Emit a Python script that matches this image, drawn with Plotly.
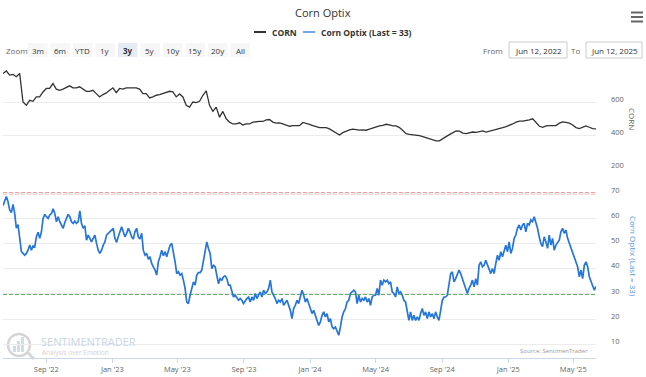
import plotly.graph_objects as go
import pandas as pd

# ---------------- data ----------------
title_text = "Corn Optix"
corn_name = "CORN"
optix_name = "Corn Optix (Last = 33)"
start_date = "2022-06-13"
end_date = "2025-06-12"

corn_values = [
    773, 788, 763, 767, 753, 773, 600, 580, 610, 604,
    631, 631, 661, 682, 682, 712, 678, 671, 678, 686,
    698, 686, 686, 692, 678, 665, 665, 671, 651, 631,
    645, 655, 671, 686, 657, 682, 678, 686, 686, 686,
    686, 678, 651, 651, 625, 631, 641, 645, 651, 661,
    665, 661, 631, 649, 631, 580, 569, 600, 596, 604,
    641, 668, 580, 543, 569, 508, 543, 498, 478, 467,
    467, 474, 461, 467, 467, 478, 482, 482, 482, 492,
    494, 478, 472, 474, 467, 461, 453, 457, 457, 457,
    476, 472, 465, 457, 451, 445, 445, 445, 437, 425,
    412, 400, 414, 423, 431, 435, 431, 429, 431, 429,
    435, 443, 451, 455, 459, 465, 461, 455, 455, 445,
    427, 408, 404, 402, 398, 396, 390, 384, 378, 374,
    365, 365, 380, 390, 402, 416, 425, 423, 412, 408,
    414, 418, 416, 420, 425, 418, 423, 427, 431, 437,
    445, 451, 457, 467, 478, 484, 484, 486, 492, 498,
    478, 453, 447, 455, 457, 457, 457, 472, 480, 476,
    472, 461, 445, 439, 449, 455, 447, 439, 437,
]

optix_values = [
    65.1, 67.3, 68.7, 66.7, 63.4, 62.3, 65.6, 62.0, 56.1, 57.6,
    52.1, 46.8, 46.1, 45.4, 46.1, 47.4, 49.4, 47.4, 49.1, 48.8,
    52.7, 54.5, 52.1, 54.7, 60.0, 61.6, 60.7, 60.0, 61.4, 62.0,
    63.8, 62.0, 58.7, 60.7, 58.7, 57.4, 56.1, 58.4, 60.0, 61.6,
    60.7, 58.7, 58.0, 59.0, 58.0, 58.7, 63.0, 58.0, 56.1, 57.1,
    51.4, 53.4, 52.1, 50.7, 52.1, 53.4, 50.1, 47.4, 46.1, 47.4,
    49.4, 50.7, 53.4, 54.1, 55.0, 55.4, 56.1, 52.1, 50.5, 52.7,
    54.7, 56.7, 54.7, 52.7, 54.1, 56.1, 54.7, 52.7, 51.8, 54.7,
    56.1, 52.7, 51.8, 54.1, 47.4, 45.4, 46.1, 43.8, 44.8, 42.1,
    40.8, 39.5, 37.5, 42.8, 44.8, 47.4, 45.2, 46.8, 44.8, 47.4,
    49.4, 50.1, 46.8, 42.8, 38.1, 38.8, 37.5, 38.1, 35.5, 32.2,
    26.8, 26.2, 29.5, 32.2, 34.8, 33.5, 37.5, 38.5,
    38.5, 39.5, 42.8, 46.8, 50.7, 48.1, 46.1, 40.1, 41.4, 40.8,
    37.5, 34.1, 36.1, 35.5, 36.8, 37.2, 36.1, 33.5, 33.5, 30.8,
    28.8, 29.5, 28.2, 27.5, 28.2, 27.5, 26.2, 27.5, 28.2, 28.8,
    26.8, 28.8, 27.5, 30.2, 28.2, 29.5, 30.8, 28.8, 31.5, 30.2,
    30.8, 32.2, 35.5, 30.8, 29.5, 28.2, 26.2, 27.5, 26.8, 28.2,
    25.5, 26.8, 27.5, 25.5, 23.5, 20.2, 24.2, 25.5, 27.5, 26.2,
    28.8, 31.5, 29.5, 26.8, 28.2, 26.2, 24.2, 22.2, 23.5, 20.9,
    19.5, 17.5, 18.9, 21.5, 22.9, 20.9, 22.2, 18.9, 20.2, 16.9,
    16.2, 16.9, 14.9, 13.6, 16.9, 20.9, 22.9, 24.2, 26.8, 27.5,
    30.2, 30.8, 31.5, 30.8, 26.2, 29.5, 26.8, 28.2, 27.5, 28.8,
    26.8, 28.2, 25.5, 28.8, 29.5, 29.5, 32.2, 29.5, 35.5, 33.5,
    35.5, 34.8, 35.5, 34.1, 34.8, 30.8, 30.2, 28.8,
    32.8, 30.2, 30.8, 29.5, 27.5, 26.8, 22.9, 19.5, 22.9, 19.5,
    21.5, 19.5, 20.9, 19.5, 22.2, 24.2, 21.5, 22.9, 20.2, 22.9,
    20.9, 22.2, 20.2, 22.9, 20.9, 19.5, 23.5, 27.5, 28.8, 28.8,
    29.5, 33.5, 38.1, 38.8, 34.8, 36.1, 37.5, 39.5, 38.1, 35.5,
    34.1, 32.2, 30.2, 32.2, 33.5, 35.5, 32.8, 36.1, 33.5, 41.4,
    42.8, 40.8, 41.4, 43.4, 41.4, 40.1, 38.1, 40.1, 38.1, 42.1,
    45.4, 43.4, 46.8, 44.8, 47.4, 49.4, 46.8, 50.7, 46.1, 48.1,
    52.1, 53.4, 56.1, 57.4, 55.4, 57.4, 58.0, 54.7, 58.0, 57.4,
    59.4, 58.7, 60.7, 58.7, 56.1, 52.7, 50.1, 48.8, 52.7, 50.7,
    48.1, 53.4, 49.4, 52.1, 47.4, 49.4, 50.7, 51.4, 54.7, 56.1,
    54.1, 55.4, 52.1, 50.1, 48.8, 46.8, 44.8, 42.8, 40.8, 36.8,
    39.5, 36.1, 41.4, 42.8, 40.8, 36.8, 34.8, 33.5, 31.5, 33.0,
]

x_tick_dates = ["2022-09-01", "2023-01-01", "2023-05-01", "2023-09-01", "2024-01-01",
                "2024-05-01", "2024-09-01", "2025-01-01", "2025-05-01"]
x_tick_labels = ["Sep '22", "Jan '23", "May '23", "Sep '23", "Jan '24",
                 "May '24", "Sep '24", "Jan '25", "May '25"]
corn_ticks = [200, 400, 600, 800]
corn_tick_labels = ["200", "400", "600", ""]
optix_ticks = [10, 20, 30, 40, 50, 60, 70]
upper_band = 70
lower_band = 30
zoom_buttons = ["3m", "6m", "YTD", "1y", "3y", "5y", "10y", "15y", "20y", "All"]
selected_button = "3y"
date_from = "Jun 12, 2022"
date_to = "Jun 12, 2025"
source_text = "Source: SentimenTrader"

corn_dates = pd.date_range(start_date, end_date, periods=len(corn_values))
optix_dates = pd.date_range(start_date, end_date, periods=len(optix_values))

# ---------------- layout geometry (pixels) ----------------
W, H = 646, 377
L, R, T, B = 3, 596, 69, 358
FONT = "Open Sans"


def px(x):
    return (x - L) / (R - L)


def py(y):
    return (B - y) / (B - T)


CORN_COLOR = "#333333"
OPTIX_COLOR = "#2576db"

fig = go.Figure()
fig.add_trace(go.Scatter(x=corn_dates, y=corn_values, mode="lines", name=corn_name,
                         line=dict(color=CORN_COLOR, width=1.3), yaxis="y", showlegend=False))
fig.add_trace(go.Scatter(x=optix_dates, y=optix_values, mode="lines", name=optix_name,
                         line=dict(color=OPTIX_COLOR, width=1.7), yaxis="y2", showlegend=False))

shapes = []
annotations = []

# threshold lines
shapes.append(dict(type="line", xref="paper", x0=0, x1=1, yref="y2", y0=upper_band, y1=upper_band,
                   line=dict(color="#f03c3c", width=1.8, dash="4px,2px"), layer="between"))
shapes.append(dict(type="line", xref="paper", x0=0, x1=1, yref="y2", y0=lower_band, y1=lower_band,
                   line=dict(color="#2f962f", width=1.8, dash="4px,2px"), layer="between"))

# title
annotations.append(dict(text=title_text, x=px(323), y=py(12), xref="paper", yref="paper",
                        showarrow=False, xanchor="center", yanchor="middle",
                        font=dict(family=FONT, size=11, color="#333333")))

# legend (manual)
shapes.append(dict(type="line", xref="paper", yref="paper", x0=px(254), x1=px(266), y0=py(32), y1=py(32),
                   line=dict(color=CORN_COLOR, width=2)))
annotations.append(dict(text="<b>" + corn_name + "</b>", x=px(270), y=py(32), xref="paper", yref="paper",
                        showarrow=False, xanchor="left", yanchor="middle",
                        font=dict(family=FONT, size=8.5, color="#333333")))
shapes.append(dict(type="line", xref="paper", yref="paper", x0=px(303), x1=px(315), y0=py(32), y1=py(32),
                   line=dict(color="#6aa8ec", width=2)))
annotations.append(dict(text="<b>" + optix_name + "</b>", x=px(319), y=py(32), xref="paper", yref="paper",
                        showarrow=False, xanchor="left", yanchor="middle",
                        font=dict(family=FONT, size=8.5, color="#333333")))

# zoom row
annotations.append(dict(text="Zoom", x=px(4), y=py(50), xref="paper", yref="paper",
                        showarrow=False, xanchor="left", yanchor="middle",
                        font=dict(family=FONT, size=8, color="#666666")))
for i, lab in enumerate(zoom_buttons):
    x0 = 28 + i * 22.5
    x1 = x0 + 19.5
    sel = lab == selected_button
    shapes.append(dict(type="rect", xref="paper", yref="paper", x0=px(x0), x1=px(x1), y0=py(57), y1=py(43),
                       fillcolor="#e6ebf5" if sel else "#f7f7f7", line=dict(width=0)))
    annotations.append(dict(text=("<b>%s</b>" % lab) if sel else lab, x=px((x0 + x1) / 2), y=py(50),
                            xref="paper", yref="paper", showarrow=False, xanchor="center", yanchor="middle",
                            font=dict(family=FONT, size=8, color="#333333")))

# from / to boxes
annotations.append(dict(text="From", x=px(505), y=py(50), xref="paper", yref="paper",
                        showarrow=False, xanchor="right", yanchor="middle",
                        font=dict(family=FONT, size=8, color="#666666")))
shapes.append(dict(type="rect", xref="paper", yref="paper", x0=px(509), x1=px(567), y0=py(58), y1=py(42),
                   fillcolor="white", line=dict(color="#cccccc", width=1)))
annotations.append(dict(text=date_from, x=px(538), y=py(50), xref="paper", yref="paper",
                        showarrow=False, xanchor="center", yanchor="middle",
                        font=dict(family=FONT, size=8, color="#333333")))
annotations.append(dict(text="To", x=px(582), y=py(50), xref="paper", yref="paper",
                        showarrow=False, xanchor="right", yanchor="middle",
                        font=dict(family=FONT, size=8, color="#666666")))
shapes.append(dict(type="rect", xref="paper", yref="paper", x0=px(586), x1=px(642), y0=py(58), y1=py(42),
                   fillcolor="white", line=dict(color="#cccccc", width=1)))
annotations.append(dict(text=date_to, x=px(614), y=py(50), xref="paper", yref="paper",
                        showarrow=False, xanchor="center", yanchor="middle",
                        font=dict(family=FONT, size=8, color="#333333")))

# hamburger menu
for yy in (12.5, 17, 21.5):
    shapes.append(dict(type="line", xref="paper", yref="paper", x0=px(631), x1=px(643), y0=py(yy), y1=py(yy),
                       line=dict(color="#666666", width=2)))

# axis titles (rotated like the original)
annotations.append(dict(text=corn_name, x=px(633), y=py(119), xref="paper", yref="paper",
                        showarrow=False, textangle=90, xanchor="center", yanchor="middle",
                        font=dict(family=FONT, size=8, color="#666666")))
annotations.append(dict(text=optix_name, x=px(633), y=py(256), xref="paper", yref="paper",
                        showarrow=False, textangle=90, xanchor="center", yanchor="middle",
                        font=dict(family=FONT, size=8, color="#4d94e6")))

# watermark
shapes.append(dict(type="circle", xref="paper", yref="paper", x0=px(8), x1=px(30), y0=py(356), y1=py(334),
                   line=dict(color="#d6d6d6", width=2.5), layer="below"))
for bx, top in ((13, 346), (17, 341), (21, 337)):
    shapes.append(dict(type="rect", xref="paper", yref="paper", x0=px(bx), x1=px(bx + 3), y0=py(352), y1=py(top),
                       fillcolor="#cfdcea", line=dict(width=0), layer="below"))
shapes.append(dict(type="line", xref="paper", yref="paper", x0=px(27), x1=px(34), y0=py(352), y1=py(359),
                   line=dict(color="#d6d6d6", width=3), layer="below"))
annotations.append(dict(text="SENTIMENTRADER", x=px(39), y=py(341), xref="paper", yref="paper",
                        showarrow=False, xanchor="left", yanchor="middle",
                        font=dict(family=FONT, size=11, color="#c9d6e3")))
annotations.append(dict(text="Analysis over Emotion", x=px(40), y=py(352), xref="paper", yref="paper",
                        showarrow=False, xanchor="left", yanchor="middle",
                        font=dict(family=FONT, size=6.5, color="#d3d3d3")))
annotations.append(dict(text=source_text, x=px(590), y=py(351), xref="paper", yref="paper",
                        showarrow=False, xanchor="right", yanchor="middle",
                        font=dict(family=FONT, size=6, color="#999999")))

fig.update_layout(
    width=W, height=H,
    margin=dict(l=L, r=W - R, t=T, b=H - B, pad=0),
    paper_bgcolor="white", plot_bgcolor="white",
    font=dict(family=FONT, size=8, color="#666666"),
    showlegend=False,
    xaxis=dict(type="date", range=[start_date, end_date], anchor="y2",
               tickvals=x_tick_dates, ticktext=x_tick_labels,
               showgrid=False, zeroline=False,
               showline=True, linecolor="#ccd6eb", linewidth=1,
               ticks="outside", ticklen=4, tickcolor="#ccd6eb",
               tickfont=dict(family=FONT, size=7.5, color="#666666")),
    yaxis=dict(domain=[py(168), 1], range=[200, 800], side="right", anchor="x",
               tickvals=corn_ticks, ticktext=corn_tick_labels,
               showgrid=True, gridcolor="#ececec", gridwidth=1, zeroline=False,
               showline=False, ticks="", ticklabelstandoff=14, ticklabelshift=-3,
               tickfont=dict(family=FONT, size=7.5, color="#666666")),
    yaxis2=dict(domain=[0, py(180)], range=[4.56, 75.28], side="right", anchor="x",
                tickvals=optix_ticks,
                showgrid=True, gridcolor="#ececec", gridwidth=1, zeroline=False,
                showline=False, ticks="", ticklabelstandoff=14, ticklabelshift=-3,
                tickfont=dict(family=FONT, size=7.5, color="#666666")),
    shapes=shapes,
    annotations=annotations,
)

fig.write_html("out.html", config={"displayModeBar": False},
               post_script="document.body.style.margin='0';document.body.style.overflow='hidden';")
